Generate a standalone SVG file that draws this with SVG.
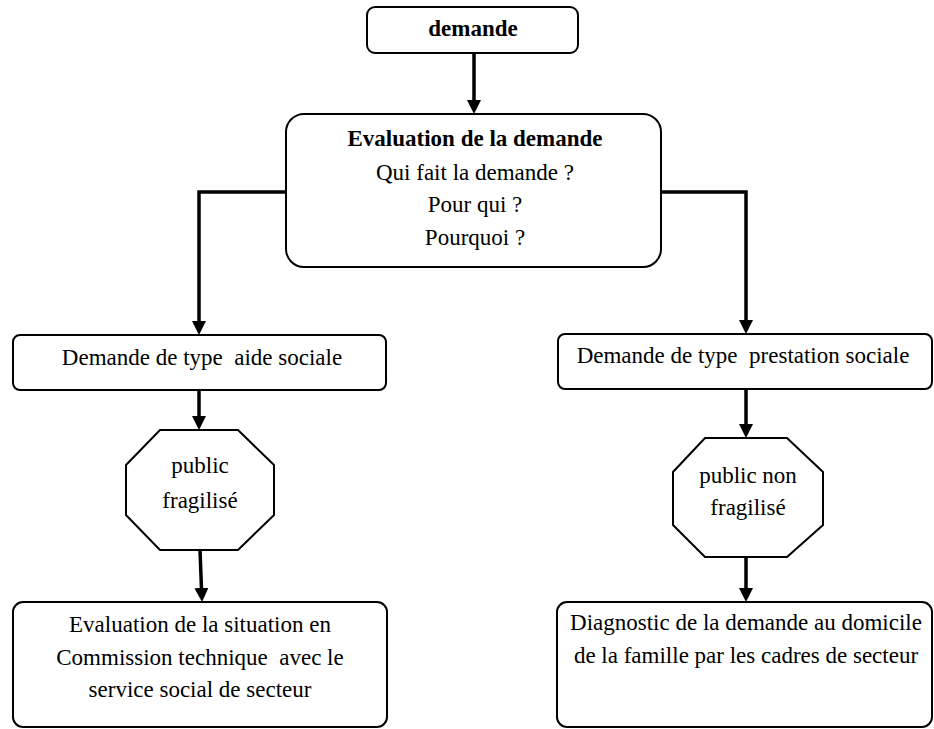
<svg xmlns="http://www.w3.org/2000/svg" width="934" height="729" viewBox="0 0 934 729">
<style>
.box{fill:#fff;stroke:#000;stroke-width:2}
.t{font-family:"Liberation Serif","Times New Roman",serif;font-size:23px;fill:#000;text-anchor:middle}
.b{font-weight:bold}
.conn{fill:none;stroke:#000;stroke-width:3.5;marker-end:url(#arr)}
</style>
<defs>
<marker id="arr" markerUnits="userSpaceOnUse" markerWidth="14" markerHeight="14" refX="6" refY="7" orient="auto">
<path d="M0,0 L14,7 L0,14 z" fill="#000"/>
</marker>
</defs>
<rect x="0" y="0" width="934" height="729" fill="#fff"/>
<g id="connectors">
<line class="conn" x1="474" y1="53" x2="474" y2="106"/>
<polyline class="conn" points="286,192 199,192 199,327"/>
<polyline class="conn" points="661,192 746,192 746,326"/>
<line class="conn" x1="199" y1="390" x2="199" y2="422"/>
<line class="conn" x1="746" y1="389" x2="746" y2="430"/>
<line class="conn" x1="200" y1="550" x2="201.7" y2="594"/>
<line class="conn" x1="746" y1="557" x2="746" y2="594"/>
</g>
<g id="demande">
<rect class="box" x="367" y="7" width="211" height="46" rx="8"/>
<text class="t b" x="473" y="36">demande</text>
</g>
<g id="evaluation">
<rect class="box" x="286" y="114" width="375" height="153" rx="18"/>
<text class="t b" x="475" y="146">Evaluation de la demande</text>
<text class="t" x="475" y="180">Qui fait la demande ?</text>
<text class="t" x="475" y="212">Pour qui ?</text>
<text class="t" x="475" y="245">Pourquoi ?</text>
</g>
<g id="aide">
<rect class="box" x="13" y="335" width="373" height="55" rx="7"/>
<text class="t" x="202" y="365" xml:space="preserve">Demande de type  aide sociale</text>
</g>
<g id="prestation">
<rect class="box" x="558" y="334" width="374" height="55" rx="7"/>
<text class="t" x="743" y="363" xml:space="preserve">Demande de type  prestation sociale</text>
</g>
<g id="fragilise">
<polygon class="box" points="160,430 238,430 274,465 274,515 238,550 160,550 126,515 126,465"/>
<text class="t" x="200" y="473">public</text>
<text class="t" x="200" y="508">fragilisé</text>
</g>
<g id="nonfragilise">
<polygon class="box" points="705,438 787,438 823,472 823,525 787,557 705,557 673,525 673,472"/>
<text class="t" x="748" y="483">public non</text>
<text class="t" x="748" y="515">fragilisé</text>
</g>
<g id="commission">
<rect class="box" x="13" y="602" width="374" height="125" rx="10"/>
<text class="t" x="200" y="632">Evaluation de la situation en</text>
<text class="t" x="200" y="665" xml:space="preserve">Commission technique  avec le</text>
<text class="t" x="200" y="697">service social de secteur</text>
</g>
<g id="diagnostic">
<rect class="box" x="557" y="602" width="375" height="125" rx="10"/>
<text class="t" x="746" y="630">Diagnostic de la demande au domicile</text>
<text class="t" x="746" y="663">de la famille par les cadres de secteur</text>
</g>
</svg>
